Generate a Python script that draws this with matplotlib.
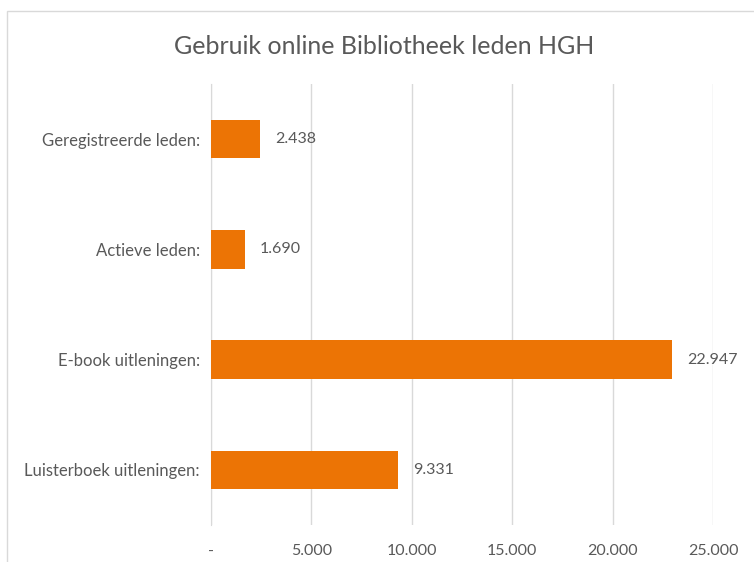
import matplotlib.pyplot as plt
from matplotlib.patches import Rectangle

# Data
categories = ['Geregistreerde leden:', 'Actieve leden:', 'E-book uitleningen:', 'Luisterboek uitleningen:']
values = [2438, 1690, 22947, 9331]
ticks = [0, 5000, 10000, 15000, 20000, 25000]

plt.rcParams['font.family'] = ['Lato', 'DejaVu Sans']
text_col = '#595959'
grid_col = '#D9D9D9'
bar_col = '#EC7405'


def fmt(v):
    if v == 0:
        return '-'
    return f'{v:,}'.replace(',', '.')


fig = plt.figure(figsize=(7.54, 5.62), dpi=100)
fig.patches.append(Rectangle((7 / 754, -0.01), 1.0, 1 - 11 / 562 + 0.01,
                             transform=fig.transFigure, fill=False,
                             edgecolor=grid_col, linewidth=1))
ax = fig.add_axes([211 / 754, 1 - 525 / 562, 502 / 754, 441 / 562])

ypos = list(range(len(categories)))
ax.barh(ypos, values, height=0.35, color=bar_col, zorder=3)
ax.set_ylim(len(categories) - 0.5, -0.5)
ax.set_xlim(0, 25000)

for y, v in zip(ypos, values):
    ax.annotate(fmt(v), (v, y), xytext=(15, 0), textcoords='offset pixels',
                ha='left', va='center', fontsize=11.5, color=text_col)

ax.set_yticks(ypos)
ax.set_yticklabels(categories)
ax.set_xticks(ticks)
ax.set_xticklabels([fmt(t) for t in ticks])
ax.tick_params(axis='both', length=0, labelcolor=text_col)
ax.tick_params(axis='x', pad=14, labelsize=11.5)
ax.tick_params(axis='y', pad=8, labelsize=12)
ax.grid(axis='x', color=grid_col, linewidth=1, zorder=0)
for s in ['top', 'right', 'bottom']:
    ax.spines[s].set_visible(False)
ax.spines['left'].set_color(grid_col)

fig.text(0.5 * (173 + 596) / 754, 1 - 46 / 562, 'Gebruik online Bibliotheek leden HGH',
         ha='center', va='center', fontsize=18, color=text_col)

fig.savefig('out.png', dpi=100)
